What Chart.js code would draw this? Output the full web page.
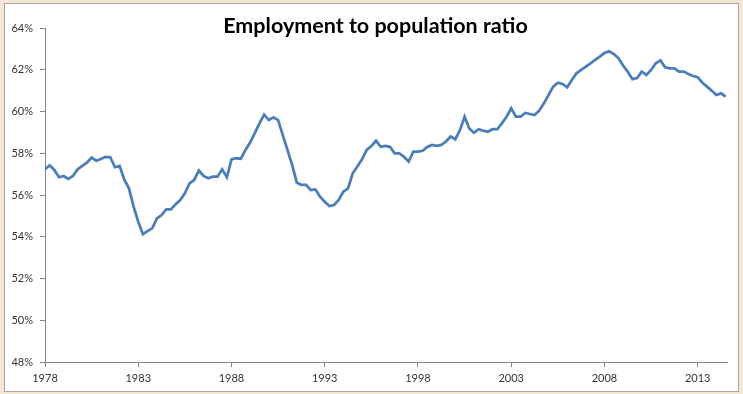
<!DOCTYPE html>
<html>
<head>
<meta charset="utf-8">
<script src="https://cdn.jsdelivr.net/npm/chart.js@4.4.1/dist/chart.umd.min.js"></script>
<style>
  html, body { margin: 0; padding: 0; }
  body { width: 743px; height: 394px; background: #f6e7d4; position: relative; overflow: hidden; }
  #marco { position: absolute; left: 4px; top: 3px; width: 733px; height: 387px; border: 1px solid #a6a6a6; background: #fff; }
  canvas { display: block; }
</style>
</head>
<body>
<div id="marco"><canvas id="grafico" width="733" height="387"></canvas></div>
<script>
// Datos (trimestrales, desde enero de 1978)
const tituloGrafico = 'Employment to population ratio';
const anioInicio = 1978;
const periodosPorAnio = 4;
const anioFinEje = 2014.57;
const etiquetasAnios = [1978, 1983, 1988, 1993, 1998, 2003, 2008, 2013];
const ratioEmpleo = [
  57.23, 57.42, 57.20, 56.85, 56.91, 56.77, 56.91, 57.23, 57.39, 57.55,
  57.79, 57.64, 57.72, 57.83, 57.81, 57.33, 57.39, 56.75, 56.32, 55.44,
  54.72, 54.12, 54.27, 54.40, 54.88, 55.04, 55.31, 55.31, 55.55, 55.76,
  56.08, 56.56, 56.72, 57.17, 56.91, 56.80, 56.88, 56.88, 57.23, 56.85,
  57.71, 57.76, 57.74, 58.16, 58.51, 58.96, 59.43, 59.85, 59.59, 59.72,
  59.59, 58.87, 58.16, 57.44, 56.60, 56.48, 56.48, 56.24, 56.27, 55.92,
  55.68, 55.47, 55.52, 55.76, 56.16, 56.32, 57.04, 57.36, 57.71, 58.16,
  58.35, 58.60, 58.31, 58.35, 58.31, 58.00, 58.00, 57.83, 57.60, 58.08,
  58.08, 58.12, 58.30, 58.40, 58.35, 58.40, 58.56, 58.80, 58.67, 59.11,
  59.75, 59.19, 58.98, 59.15, 59.08, 59.03, 59.15, 59.15, 59.43, 59.75,
  60.15, 59.75, 59.75, 59.93, 59.88, 59.83, 60.04, 60.39, 60.79, 61.19,
  61.38, 61.32, 61.16, 61.51, 61.83, 61.99, 62.15, 62.31, 62.47, 62.63,
  62.80, 62.88, 62.75, 62.55, 62.20, 61.90, 61.55, 61.60, 61.91, 61.75,
  61.99, 62.31, 62.45, 62.12, 62.07, 62.07, 61.91, 61.91, 61.80, 61.70,
  61.64, 61.38, 61.19, 60.99, 60.79, 60.87, 60.71
];

const puntos = ratioEmpleo.map((v, i) => ({ x: anioInicio + i / periodosPorAnio, y: v }));

const colorEje = '#868686';
const fuenteEje = { family: 'Lato', size: 11 };

// Titulo dibujado encima del area del grafico, como en Excel
const tituloEncima = {
  id: 'tituloEncima',
  afterDraw(chart) {
    const ctx = chart.ctx;
    ctx.save();
    ctx.font = 'bold 21.5px Lato';
    ctx.fillStyle = '#000';
    ctx.textAlign = 'center';
    ctx.textBaseline = 'alphabetic';
    ctx.fillText(tituloGrafico, chart.width / 2 + 4, 29);
    ctx.restore();
  }
};

new Chart(document.getElementById('grafico'), {
  type: 'line',
  data: {
    datasets: [{
      label: 'Employment to population ratio',
      data: puntos,
      borderColor: '#4a7ebb',
      borderWidth: 2.75,
      pointRadius: 0,
      tension: 0,
      fill: false
    }]
  },
  options: {
    responsive: false,
    animation: false,
    layout: { padding: { top: 24, right: 11, left: 0, bottom: 0 } },
    plugins: {
      legend: { display: false },
      tooltip: { enabled: false }
    },
    scales: {
      x: {
        type: 'linear',
        min: anioInicio,
        max: anioFinEje,
        afterBuildTicks: s => { s.ticks = etiquetasAnios.map(v => ({ value: v })); },
        afterFit: s => { s.height = 29; },
        grid: { drawOnChartArea: false, color: colorEje, tickLength: 5 },
        border: { color: colorEje },
        ticks: {
          padding: 5,
          color: '#333',
          font: fuenteEje,
          maxRotation: 0,
          autoSkip: false,
          callback: v => String(v)
        }
      },
      y: {
        min: 48,
        max: 64,
        afterFit: s => { s.width = 40; },
        grid: { drawOnChartArea: false, color: colorEje, tickLength: 5 },
        border: { color: colorEje },
        ticks: {
          stepSize: 2,
          padding: 7,
          color: '#333',
          font: fuenteEje,
          callback: v => v + '%'
        }
      }
    }
  },
  plugins: [tituloEncima]
});
</script>
</body>
</html>
